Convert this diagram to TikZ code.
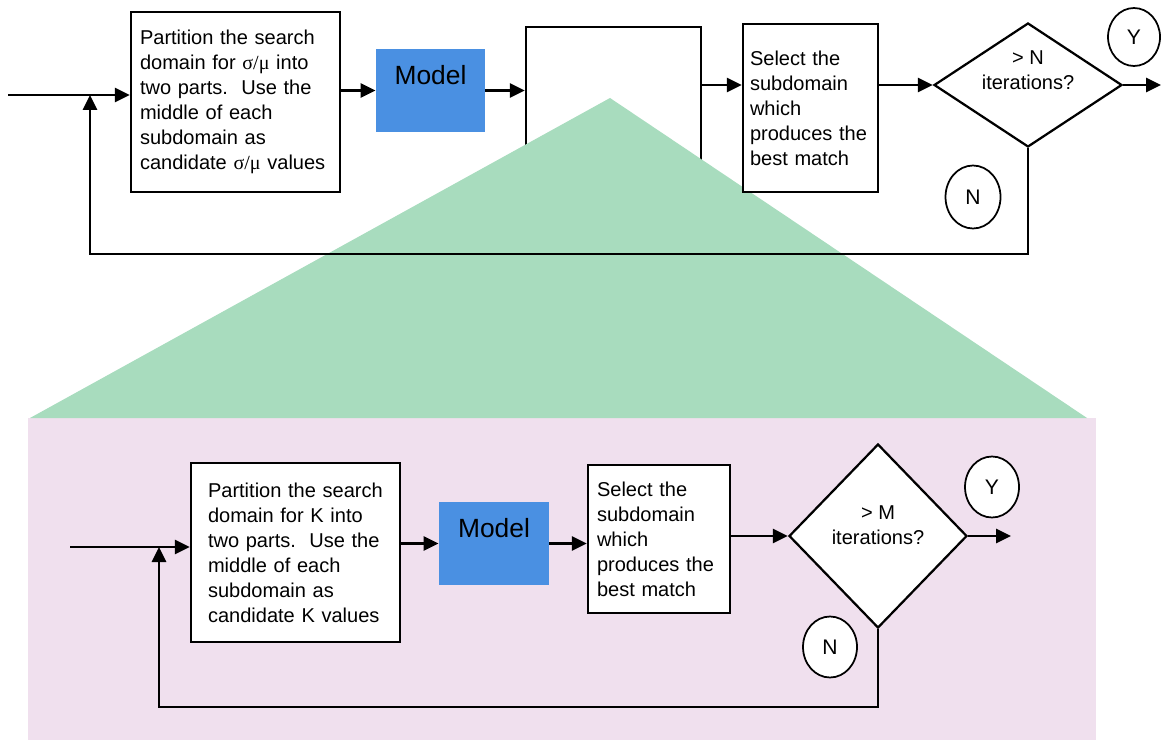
\documentclass[tikz,border=0pt]{standalone}
\usepackage{fontspec}
\setmainfont{Liberation Sans}
\newfontfamily\symfont{Liberation Serif}
\usetikzlibrary{shapes.geometric,arrows.meta}

\definecolor{r168g220b190}{RGB}{168,220,190}
\definecolor{r240g224b238}{RGB}{240,224,238}
\definecolor{r74g144b226}{RGB}{74,144,226}

\begin{document}
\begin{tikzpicture}[
  procbox/.style={draw, line width=0.045cm, fill=white, align=left, font=\fontsize{11.4}{14.2}\selectfont},
  modelbox/.style={fill=r74g144b226, inner sep=0pt, font=\fontsize{15}{18}\selectfont},
  decision/.style={diamond, draw, line width=0.045cm, fill=white, inner sep=0pt},
  decisiontext/.style={align=center, font=\fontsize{11.4}{14.2}\selectfont},
  answer/.style={ellipse, draw, line width=0.035cm, fill=white, inner sep=0pt, minimum width=1.08cm, minimum height=1.22cm, font=\fontsize{12}{14}\selectfont},
  flow/.style={line width=0.055cm, -{Triangle[length=0.3cm,width=0.28cm]}}
]
\useasboundingbox (0,0) rectangle (23.22,14.8);

% Drawing the box that gets zoomed (under the triangle)
\node[draw, line width=0.045cm, fill=white, minimum width=3.5cm, minimum height=3.26cm] (zoomed) at (12.27,12.63) {};

% Drawing zoom region: pink panel and green triangle
\fill[r240g224b238] (0.56,0) rectangle (21.92,6.44);
\fill[r168g220b190] (12.2,12.84) -- (0.6,6.44) -- (21.74,6.44) -- cycle;

% ---------- outer loop (sigma/mu) ----------
\node[procbox, text width=3.82cm, inner xsep=0.18cm, minimum height=3.6cm] (part1) at (4.71,12.76)
  {Partition the search\\domain for {\symfont σ/μ} into\\two parts.\ \ Use the\\middle of each\\subdomain as\\candidate {\symfont σ/μ} values};
\node[modelbox, minimum width=2.18cm, minimum height=1.66cm] (model1) at (8.61,12.99) {\raisebox{0.12cm}[0pt][0pt]{Model}};
\node[procbox, text width=2.42cm, inner xsep=0.14cm, minimum height=3.36cm] (select1) at (16.21,12.64)
  {Select the\\subdomain\\which\\produces the\\best match};
\node[decision, minimum width=3.76cm, minimum height=2.48cm] (iter1) at (20.56,13.1) {};
\node[decisiontext] (iter1txt) at ([yshift=0.3cm]iter1.center) {> N\\iterations?};
\node[answer, minimum width=1.04cm, minimum height=1.16cm] (yes1) at (22.68,14.06) {Y};
\node[answer, minimum width=1.1cm, minimum height=1.26cm] (no1) at (19.46,10.86) {N};

\coordinate (in1) at (0.16,12.9);
\coordinate (back1) at (1.8,9.72);
\coordinate (out1) at (23.22,13.1);

% Drawing connectors
\draw[flow] (in1) -- (in1 -| part1.west);
\draw[flow] (part1.east |- model1.west) -- (model1.west);
\draw[flow] (model1.east) -- (model1.east -| zoomed.west);
\draw[flow] (zoomed.east |- iter1.west) -- (select1.west |- iter1.west);
\draw[flow] (select1.east |- iter1.west) -- (iter1.west);
\draw[flow] (iter1.east) -- (out1);
\draw[flow] (iter1.south) |- (back1) -- (back1 |- in1);

% ---------- inner loop (K) ----------
\node[procbox, text width=3.5cm, inner xsep=0.34cm, minimum height=3.58cm] (part2) at (5.91,3.75)
  {Partition the search\\domain for K into\\two parts.\ \ Use the\\middle of each\\subdomain as\\candidate K values};
\node[modelbox, minimum width=2.2cm, minimum height=1.66cm] (model2) at (9.88,3.93) {\raisebox{0.12cm}[0pt][0pt]{Model}};
\node[procbox, text width=2.48cm, inner xsep=0.18cm, minimum height=2.96cm] (select2) at (13.18,4.02)
  {Select the\\subdomain\\which\\produces the\\best match};
\node[decision, minimum width=3.56cm, minimum height=3.68cm] (iter2) at (17.56,4.08) {};
\node[decisiontext] (iter2txt) at ([yshift=0.21cm]iter2.center) {> M\\iterations?};
\node[answer] (yes2) at (19.84,5.06) {Y};
\node[answer] (no2) at (16.6,1.86) {N};

\coordinate (in2) at (1.4,3.86);
\coordinate (back2) at (3.18,0.66);
\coordinate (out2) at (20.22,4.08);

% Drawing connectors
\draw[flow] (in2) -- (in2 -| part2.west);
\draw[flow] (part2.east |- model2.west) -- (model2.west);
\draw[flow] (model2.east) -- (model2.east -| select2.west);
\draw[flow] (select2.east |- iter2.west) -- (iter2.west);
\draw[flow] (iter2.east) -- (out2);
\draw[flow] (iter2.south) |- (back2) -- (back2 |- in2);
\end{tikzpicture}
\end{document}
